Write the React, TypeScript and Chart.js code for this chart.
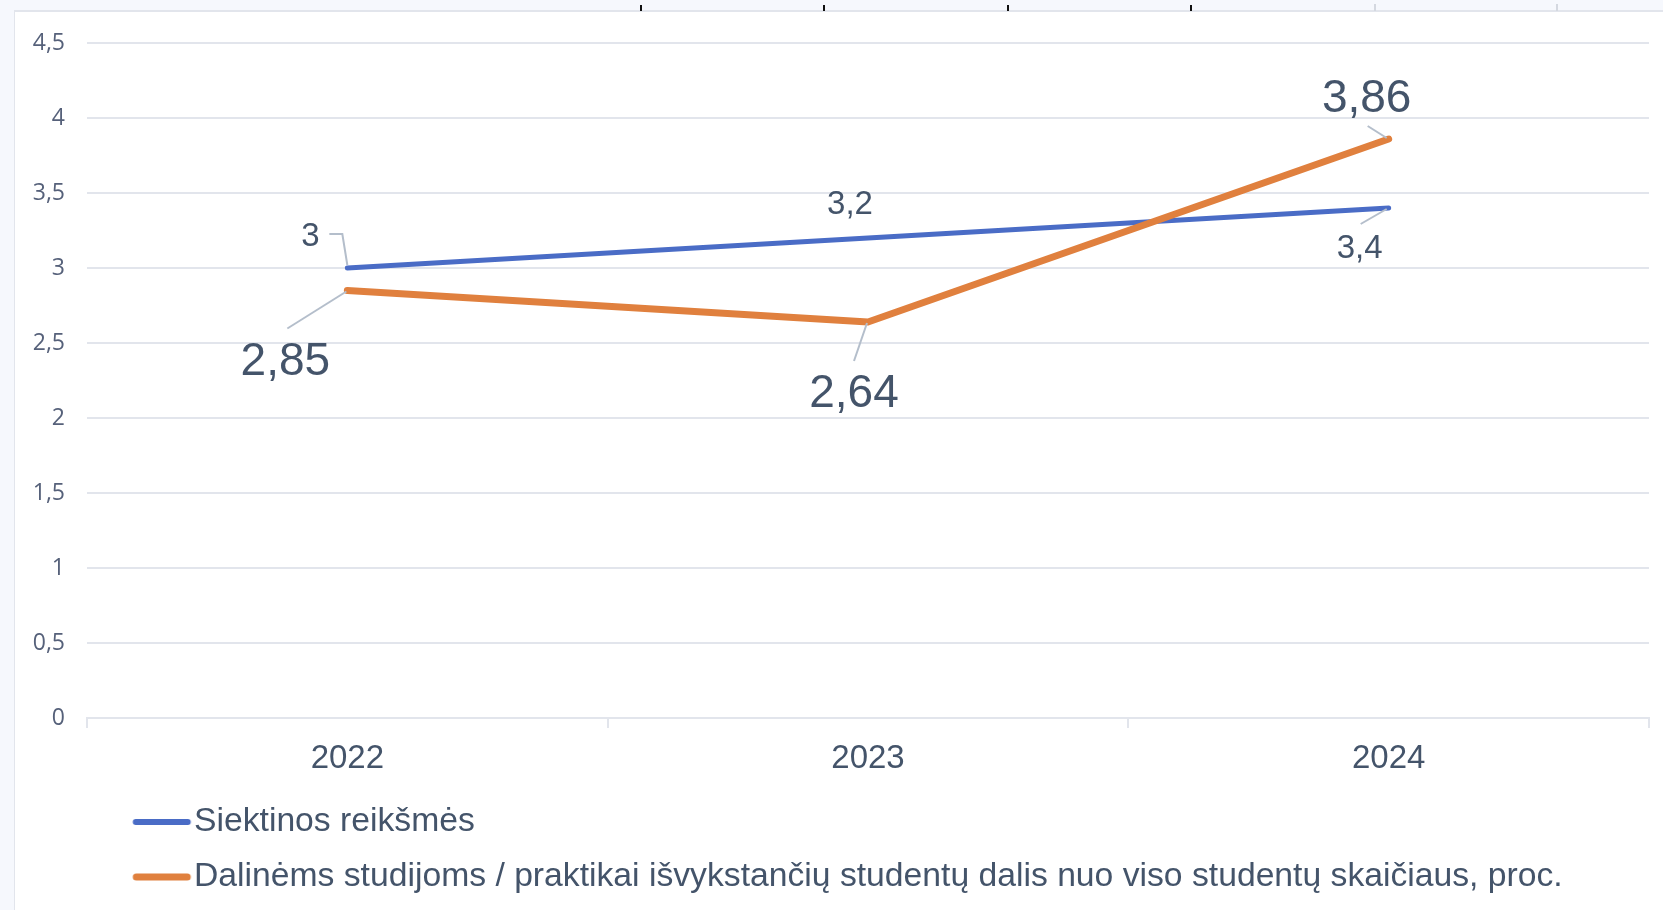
import { useEffect, useRef } from "react";
import { Chart, registerables } from "chart.js";

Chart.register(...registerables);

// ---------- data ----------
const categories = ["2022", "2023", "2024"];
const targetValues = [3, 3.2, 3.4];
const actualValues = [2.85, 2.64, 3.86];
const seriesNames = [
  "Siektinos reikšmės",
  "Dalinėms studijoms / praktikai išvykstančių studentų dalis nuo viso studentų skaičiaus, proc.",
];
const yMin = 0;
const yMax = 4.5;
const yStep = 0.5;

// ---------- style ----------
const W = 1663;
const H = 910;
const BLUE = "#4A6CC6";
const ORANGE = "#E0803E";
const TEXT = "#44546A";
const YTEXT = "#56617A";
const GRID = "#E2E5EC";
const LEADER = "#B4BECB";
const PANEL = "#F6F8FD";
const SANS = "'Liberation Sans', Arial, Helvetica, sans-serif";

const fmt = (v: number) => String(v).replace(".", ",");

// label placement relative to each point (dataset-major)
const labelLayout = [
  [
    { dx: -37, dy: -31, size: 33, leader: [[-18, -34], [-5, -34], [0, -3]] },
    { dx: -18, dy: -33, size: 33, leader: null },
    { dx: -29, dy: 41, size: 33, leader: [[-28, 16], [-2, 1]] },
  ],
  [
    { dx: -62, dy: 72, size: 46, leader: [[-60, 38], [-1, 1]] },
    { dx: -14, dy: 72, size: 46, leader: [[-14, 39], [-1, 1]] },
    { dx: -22, dy: -40, size: 46, leader: [[-21, -13], [-2, -1]] },
  ],
];

// chart geometry
const AREA_TOP = 43;
const AREA_BOTTOM = 718;

// legend geometry
const LEG_FONT = 33.7;
const LEG_ROW1 = 822;
const LEG_ROW_GAP = 55;
const LEG_PAD = LEG_ROW_GAP - LEG_FONT;
const LEG_TOP = LEG_ROW1 - LEG_PAD - LEG_FONT / 2;
const LEG_HEIGHT = 2 * LEG_ROW_GAP + 10;
const LEG_TEXT_X = 194;
const LEG_LINE_L = 133;
const LEG_LINE_R = 191;
const LEG_BOX = LEG_TEXT_X - LEG_PAD - LEG_FONT / 2;

function legendLine(color: string, lw: number) {
  const center = LEG_PAD + LEG_BOX / 2;
  const half = Math.max(LEG_LINE_R - center, center - LEG_LINE_L) + 2;
  const c = document.createElement("canvas");
  c.width = Math.ceil(half * 2);
  c.height = 14;
  const ctx = c.getContext("2d")!;
  ctx.strokeStyle = color;
  ctx.lineWidth = lw;
  ctx.lineCap = "round";
  ctx.beginPath();
  ctx.moveTo(LEG_LINE_L - center + half + lw / 2, 7);
  ctx.lineTo(LEG_LINE_R - center + half - lw / 2, 7);
  ctx.stroke();
  return c;
}

const framePlugin = {
  id: "frame",
  beforeDraw(chart: any) {
    const ctx = chart.ctx;
    ctx.save();
    ctx.fillStyle = "#FFFFFF";
    ctx.fillRect(0, 0, W, H);
    ctx.fillStyle = PANEL;
    ctx.fillRect(0, 0, W, 10);
    ctx.fillRect(0, 0, 14, H);
    ctx.fillStyle = GRID;
    ctx.fillRect(14, 10, W - 14, 2);
    ctx.fillRect(14, 10, 1, H - 10);
    ctx.fillStyle = "#111111";
    [641, 824, 1008, 1191].forEach((x) => ctx.fillRect(x - 1, 5, 2, 6));
    ctx.fillStyle = "#D4D8E0";
    [1375, 1557].forEach((x) => ctx.fillRect(x - 1, 4, 2, 7));
    ctx.restore();
  },
};

const pointLabelPlugin = {
  id: "pointLabels",
  afterDatasetsDraw(chart: any) {
    const ctx = chart.ctx;
    ctx.save();
    chart.data.datasets.forEach((ds: any, di: number) => {
      const meta = chart.getDatasetMeta(di);
      meta.data.forEach((pt: any, i: number) => {
        const cfg = labelLayout[di][i];
        if (cfg.leader) {
          ctx.strokeStyle = LEADER;
          ctx.lineWidth = 2;
          ctx.beginPath();
          cfg.leader.forEach((p: number[], k: number) => {
            if (k === 0) ctx.moveTo(pt.x + p[0], pt.y + p[1]);
            else ctx.lineTo(pt.x + p[0], pt.y + p[1]);
          });
          ctx.stroke();
        }
        ctx.fillStyle = TEXT;
        ctx.font = `${cfg.size}px ${SANS}`;
        ctx.textAlign = "center";
        ctx.textBaseline = "middle";
        ctx.fillText(fmt(ds.data[i]), pt.x + cfg.dx, pt.y + cfg.dy);
      });
    });
    ctx.restore();
  },
};

export default function App() {
  const ref = useRef<HTMLCanvasElement | null>(null);

  useEffect(() => {
    if (!ref.current) return;
    const legendImgs = [legendLine(BLUE, 6), legendLine(ORANGE, 7)];
    const chart = new Chart(ref.current, {
      type: "line",
      data: {
        labels: categories,
        datasets: [
          {
            label: seriesNames[0],
            data: targetValues,
            borderColor: BLUE,
            backgroundColor: BLUE,
            borderWidth: 5,
            borderCapStyle: "round",
            borderJoinStyle: "round",
            pointRadius: 0,
            tension: 0,
            order: 1,
          },
          {
            label: seriesNames[1],
            data: actualValues,
            borderColor: ORANGE,
            backgroundColor: ORANGE,
            borderWidth: 7,
            borderCapStyle: "round",
            borderJoinStyle: "round",
            pointRadius: 0,
            tension: 0,
            order: 0,
          },
        ],
      },
      options: {
        responsive: false,
        animation: false,
        devicePixelRatio: 1,
        layout: {
          padding: { left: 0, right: 14, top: AREA_TOP, bottom: H - LEG_TOP - LEG_HEIGHT },
        },
        scales: {
          x: {
            type: "category",
            offset: true,
            grid: {
              offset: true,
              drawOnChartArea: false,
              drawTicks: true,
              tickLength: 10,
              color: GRID,
              lineWidth: 2,
            },
            border: { display: true, color: GRID, width: 2 },
            ticks: {
              color: TEXT,
              padding: 11,
              font: { family: SANS, size: 33 },
              maxRotation: 0,
            },
            afterFit: (s: any) => {
              s.height = LEG_TOP - AREA_BOTTOM;
            },
          },
          y: {
            min: yMin,
            max: yMax,
            grid: { color: GRID, lineWidth: 2, drawTicks: false },
            border: { display: false },
            ticks: {
              stepSize: yStep,
              color: YTEXT,
              padding: 22,
              font: { family: "'Open Sans', sans-serif", size: 23 },
              callback: (v: any) => fmt(Number(v)),
            },
            afterFit: (s: any) => {
              s.width = 87;
            },
          },
        },
        plugins: {
          tooltip: { enabled: false },
          legend: {
            display: true,
            position: "bottom",
            align: "start",
            labels: {
              usePointStyle: true,
              pointStyleWidth: LEG_BOX,
              boxHeight: LEG_FONT,
              padding: LEG_PAD,
              color: TEXT,
              font: { family: SANS, size: LEG_FONT },
              sort: (a: any, b: any) => a.datasetIndex - b.datasetIndex,
              generateLabels: (ch: any) => {
                const items = (Chart as any).defaults.plugins.legend.labels.generateLabels(ch);
                items.forEach((it: any) => {
                  it.pointStyle = legendImgs[it.datasetIndex];
                  it.fontColor = TEXT;
                });
                return items;
              },
            },
          },
        },
      },
      plugins: [framePlugin, pointLabelPlugin],
    } as any);
    return () => chart.destroy();
  }, []);

  return (
    <div style={{ position: "fixed", left: 0, top: 0, width: W, height: H, background: "#fff" }}>
      <canvas ref={ref} width={W} height={H} style={{ display: "block", width: W, height: H }} />
    </div>
  );
}
